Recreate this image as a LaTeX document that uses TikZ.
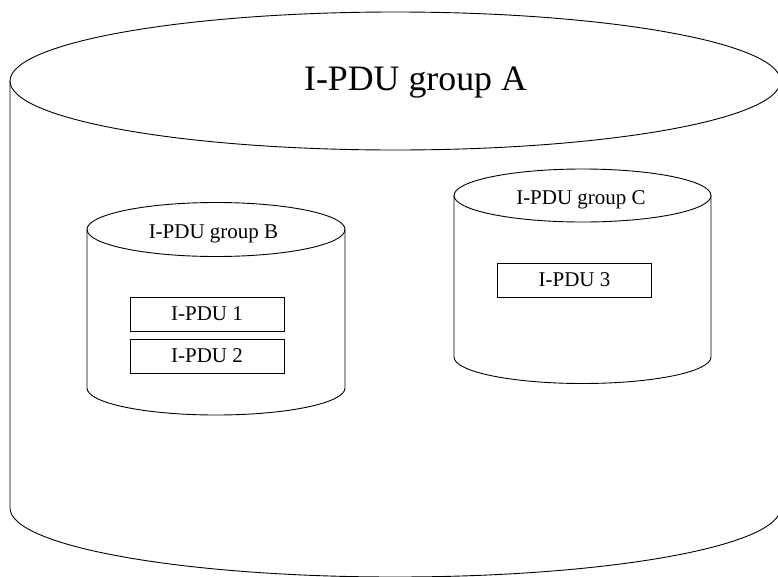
\documentclass[tikz,border=0pt]{standalone}
\usepackage{fontspec}
\setmainfont{Liberation Serif}
% can outline: left x, right x, top-ellipse centre y, bottom-ellipse centre y, y radius
\newcommand\drawcan[5]{%
  \draw[canline] ({(#1+#2)/2},#3) ellipse [x radius={(#2-#1)/2}, y radius=#5];
  \draw[canline] (#1,#3) -- (#1,#4)
    arc [start angle=180, end angle=0, x radius={(#2-#1)/2}, y radius=#5]
    -- (#2,#3);
}
\tikzset{
  canline/.style={line width=0.9pt, black},
  pdubox/.style={draw, line width=0.9pt, minimum width=154pt, minimum height=34pt,
                 inner sep=0pt, font=\fontsize{21}{25}\selectfont},
  smalllabel/.style={anchor=base, inner sep=0pt, font=\fontsize{21}{25}\selectfont},
  biglabel/.style={anchor=base, inner sep=0pt, font=\fontsize{35.8}{42}\selectfont}
}
\begin{document}
\begin{tikzpicture}[x=1pt, y=-1pt]
  \useasboundingbox (0,0) rectangle (778,576);
  \clip (0,0) rectangle (778,576);
  \fill[white] (0,0) rectangle (778,576);

  % outer group A
  \drawcan{10}{780.5}{81}{508}{69}
  \node[biglabel] (grpA) at (415.5,90) {I-PDU group A};

  % group B with two I-PDUs
  \drawcan{87}{345}{229.5}{388}{27}
  \node[smalllabel] (grpB) at (213.5,238) {I-PDU group B};
  \node[pdubox] (pdu1) at (207,314) {I-PDU 1};
  \node[pdubox] (pdu2) at (207,356) {I-PDU 2};

  % group C with one I-PDU
  \drawcan{454}{711}{195.5}{357}{26.5}
  \node[smalllabel] (grpC) at (581,204) {I-PDU group C};
  \node[pdubox] (pdu3) at (574.5,280) {I-PDU 3};
\end{tikzpicture}
\end{document}
